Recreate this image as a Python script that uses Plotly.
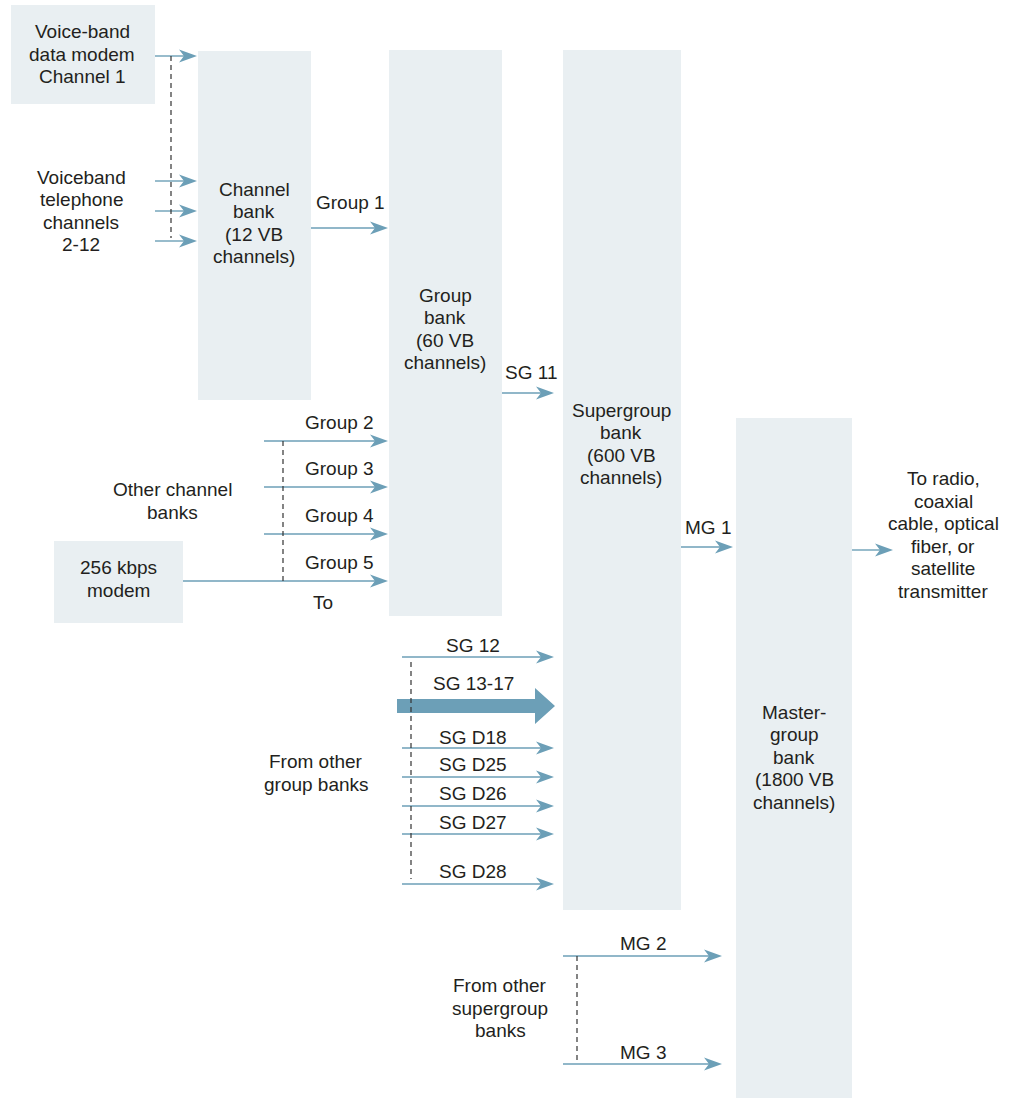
import plotly.graph_objects as go

# ---------------- content (text) ----------------
bank_labels = [
    "Channel<br>bank<br>(12 VB<br>channels)",
    "Group<br>bank<br>(60 VB<br>channels)",
    "Supergroup<br>bank<br>(600 VB<br>channels)",
    "Master-<br>group<br>bank<br>(1800 VB<br>channels)",
]
source_labels = ["Voice-band<br>data modem<br>Channel 1", "256 kbps<br>modem"]
free_labels = [
    "Voiceband<br>telephone<br>channels<br>2-12",
    "Other channel<br>banks",
    "From other<br>group banks",
    "From other<br>supergroup<br>banks",
    "To radio,<br>coaxial<br>cable, optical<br>fiber, or<br>satellite<br>transmitter",
    "To",
]
group_labels = ["Group 1", "Group 2", "Group 3", "Group 4", "Group 5"]
sg_labels = ["SG 11", "SG 12", "SG 13-17", "SG D18", "SG D25", "SG D26", "SG D27", "SG D28"]
mg_labels = ["MG 1", "MG 2", "MG 3"]

# ---------------- layout geometry (pixels) ----------------
bank_boxes = [(198, 311, 51, 400), (389, 502, 50, 616), (563, 681, 50, 910), (736, 852, 418, 1098)]
bank_text_pos = [(254, 223), (445, 329), (621, 444), (794, 757)]
source_boxes = [(11, 155, 5, 104), (54, 183, 541, 623)]
source_text_pos = [(82, 54), (118, 579)]
free_text_pos = [(81, 211), (172, 501), (316, 773), (500, 1008), (943, 535), (323, 602)]

# arrows: (x_start, x_end, y)
input_arrows = [(155, 197, 56), (155, 197, 181), (155, 197, 211), (155, 197, 241)]
group_arrows = [(311, 388, 228), (264, 388, 441), (264, 388, 487), (264, 388, 534), (183, 388, 581)]
group_text_pos = [(350, 202), (339, 422), (339, 468), (339, 515), (339, 562)]
sg_arrows = [(502, 554, 393), (402, 554, 657), None, (402, 554, 748), (402, 554, 777),
             (402, 554, 806), (402, 554, 834), (402, 554, 884)]
sg_text_pos = [(531, 372), (473, 645), (473, 683), (473, 737), (473, 764), (473, 793), (473, 822), (473, 871)]
thick_arrow = (397, 555, 706)
mg_arrows = [(681, 733, 547), (563, 722, 956), (563, 722, 1064)]
mg_text_pos = [(708, 527), (643, 943), (643, 1052)]
out_arrow = (852, 893, 550)
dashed = [(171, 56, 238), (283, 441, 581), (411, 662, 879), (577, 956, 1064)]

BOX = "#e9eff2"
ARROW = "#6c9fb7"
TEXT = "#231f20"
FONT = "Liberation Sans, Arial, Helvetica, sans-serif"
FS = 19
LINE = 22.5

shapes = []
annotations = []


def add_box(b):
    x0, x1, y0, y1 = b
    shapes.append(dict(type="rect", xref="x", yref="y", x0=x0, x1=x1, y0=y0, y1=y1,
                       fillcolor=BOX, line=dict(width=0), layer="below"))


def add_arrow(a):
    x0, x1, y = a
    shapes.append(dict(type="line", xref="x", yref="y", x0=x0, x1=x1 - 12, y0=y, y1=y,
                       line=dict(color=ARROW, width=1.4)))
    path = f"M {x1},{y} L {x1-18},{y-6.5} L {x1-13},{y} L {x1-18},{y+6.5} Z"
    shapes.append(dict(type="path", xref="x", yref="y", path=path,
                       fillcolor=ARROW, line=dict(width=0)))


def add_text(txt, pos):
    lines = txt.split("<br>")
    n = len(lines)
    for i, ln in enumerate(lines):
        yy = pos[1] + (i - (n - 1) / 2) * LINE
        annotations.append(dict(x=pos[0], y=yy, xref="x", yref="y", text=ln, showarrow=False,
                                xanchor="center", yanchor="middle", align="center",
                                font=dict(family=FONT, size=FS, color=TEXT)))


for b in bank_boxes + source_boxes:
    add_box(b)
for a in input_arrows + group_arrows + mg_arrows + [out_arrow]:
    add_arrow(a)
for a in sg_arrows:
    if a is not None:
        add_arrow(a)

# thick arrow (SG 13-17)
tx0, tx1, ty = thick_arrow
thick_path = (f"M {tx0},{ty-7} L {tx1-20},{ty-7} L {tx1-20},{ty-18} L {tx1},{ty} "
              f"L {tx1-20},{ty+18} L {tx1-20},{ty+7} L {tx0},{ty+7} Z")
shapes.append(dict(type="path", xref="x", yref="y", path=thick_path,
                   fillcolor=ARROW, line=dict(width=0)))

for x, y0, y1 in dashed:
    shapes.append(dict(type="line", xref="x", yref="y", x0=x, x1=x, y0=y0, y1=y1,
                       line=dict(color="#333333", width=1.2, dash="5px,4px")))

for t, p in zip(bank_labels, bank_text_pos):
    add_text(t, p)
for t, p in zip(source_labels, source_text_pos):
    add_text(t, p)
for t, p in zip(free_labels, free_text_pos):
    add_text(t, p)
for t, p in zip(group_labels, group_text_pos):
    add_text(t, p)
for t, p in zip(sg_labels, sg_text_pos):
    add_text(t, p)
for t, p in zip(mg_labels, mg_text_pos):
    add_text(t, p)

fig = go.Figure()
fig.add_trace(go.Scatter(x=[0, 1009], y=[0, 1099], mode="markers",
                         marker=dict(opacity=0), hoverinfo="skip", showlegend=False))
fig.update_layout(
    width=1009, height=1099,
    margin=dict(l=0, r=0, t=0, b=0),
    paper_bgcolor="white", plot_bgcolor="white",
    xaxis=dict(range=[0, 1009], visible=False, fixedrange=True),
    yaxis=dict(range=[1099, 0], visible=False, fixedrange=True),
    shapes=shapes, annotations=annotations, showlegend=False,
)
fig.write_html("out.html", config={"displayModeBar": False},
               post_script="document.body.style.margin='0';document.body.style.overflow='hidden';")
